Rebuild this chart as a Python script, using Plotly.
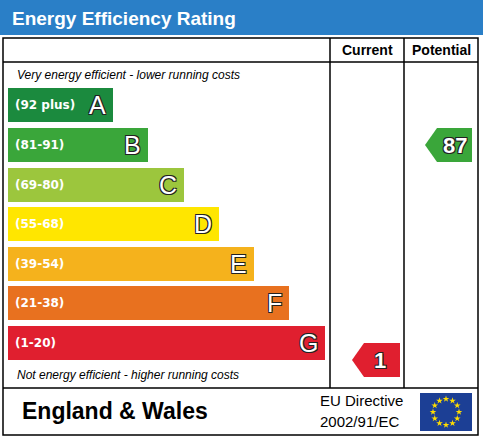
import numpy as np
import plotly.graph_objects as go

bands = ["A", "B", "C", "D", "E", "F", "G"]
ranges = ["(92 plus)", "(81-91)", "(69-80)", "(55-68)", "(39-54)", "(21-38)", "(1-20)"]
band_len = [105, 140, 176, 211, 246, 281, 317]
colors = ["#1b8a3e", "#3aa63a", "#9cc63d", "#ffe600", "#f5b21c", "#e8711f", "#e01f2f"]
band_y = [105, 145, 185, 224, 264, 303, 343]
current_val, current_band = 1, 6
potential_val, potential_band = 87, 1

W, H = 483, 437
fig = go.Figure()

fig.add_trace(go.Bar(
    y=band_y, x=band_len, base=8, orientation="h", width=34,
    marker=dict(color=colors, line=dict(width=0)), hoverinfo="skip",
))

outline = "1px 1px 0 #222, -1px -1px 0 #222, 1px -1px 0 #222, -1px 1px 0 #222"
for r, l, y, length in zip(ranges, bands, band_y, band_len):
    fig.add_annotation(x=13, y=y, text=r, showarrow=False, xanchor="left",
                       font=dict(size=12, color="white", family="Arial Black, DejaVu Sans", weight="bold"))
    fig.add_annotation(x=8 + length - 5, y=y, text=l, showarrow=False, xanchor="right",
                       font=dict(size=25, color="white", family="Liberation Sans", shadow=outline))

shapes = []
# title bar and frame
shapes.append(dict(type="rect", x0=0, x1=W, y0=0, y1=35, fillcolor="#2a7fc7", line=dict(width=0)))
box = dict(color="black", width=1.5)
shapes.append(dict(type="rect", x0=3, x1=478, y0=38, y1=435, line=box))
shapes.append(dict(type="line", x0=3, x1=478, y0=62, y1=62, line=box))
shapes.append(dict(type="line", x0=3, x1=478, y0=388, y1=388, line=box))
shapes.append(dict(type="line", x0=330, x1=330, y0=38, y1=388, line=box))
shapes.append(dict(type="line", x0=404, x1=404, y0=38, y1=388, line=box))


def arrow(x0, x1, yc, color):
    h = 17
    return dict(type="path",
                path=f"M {x0},{yc} L {x0+12},{yc-h} L {x1},{yc-h} L {x1},{yc+h} L {x0+12},{yc+h} Z",
                fillcolor=color, line=dict(width=0))


pot_y = band_y[potential_band]
cur_y = band_y[current_band] + 17
shapes.append(arrow(425, 472, pot_y, colors[potential_band]))
shapes.append(arrow(352, 400, cur_y, colors[current_band]))
# EU flag
shapes.append(dict(type="rect", x0=420, x1=472, y0=393, y1=431, fillcolor="#1c3f95",
                   line=dict(width=0), layer="below"))
fig.update_layout(shapes=shapes)

for val, x, y in [(potential_val, 455, pot_y), (current_val, 380, cur_y)]:
    fig.add_annotation(x=x, y=y, text=str(val), showarrow=False,
                       font=dict(size=22, color="white", family="Liberation Sans", weight="bold", shadow=outline))

ang = np.linspace(0, 2 * np.pi, 13)[:-1]
fig.add_trace(go.Scatter(x=446 + 13 * np.cos(ang), y=412 + 13 * np.sin(ang), mode="markers",
                         marker=dict(symbol="star", size=5, color="#ffdd00"), hoverinfo="skip",
                         cliponaxis=False))

texts = [
    (10, 18, "Energy Efficiency Rating", 19, "white", "left", "bold", "normal"),
    (367, 50, "Current", 14, "black", "center", "bold", "normal"),
    (441, 50, "Potential", 14, "black", "center", "bold", "normal"),
    (15, 75, "Very energy efficient - lower running costs", 12, "black", "left", "normal", "italic"),
    (15, 375, "Not energy efficient - higher running costs", 12, "black", "left", "normal", "italic"),
    (20, 411, "England & Wales", 23, "black", "left", "bold", "normal"),
    (318, 400, "EU Directive", 15, "black", "left", "normal", "normal"),
    (318, 421, "2002/91/EC", 15, "black", "left", "normal", "normal"),
]
for x, y, t, s, c, a, w, st in texts:
    fig.add_annotation(x=x, y=y, text=t, showarrow=False, xanchor=a,
                       font=dict(size=s, color=c, family="Liberation Sans", weight=w, style=st))

fig.update_layout(
    width=W, height=H, margin=dict(l=0, r=0, t=0, b=0),
    paper_bgcolor="white", plot_bgcolor="white", showlegend=False, bargap=0,
    xaxis=dict(range=[0, W], visible=False, fixedrange=True),
    yaxis=dict(range=[H, 0], visible=False, fixedrange=True),
)
fig.write_html("out.html", config={"displayModeBar": False},
               post_script="document.body.style.margin='0';")
